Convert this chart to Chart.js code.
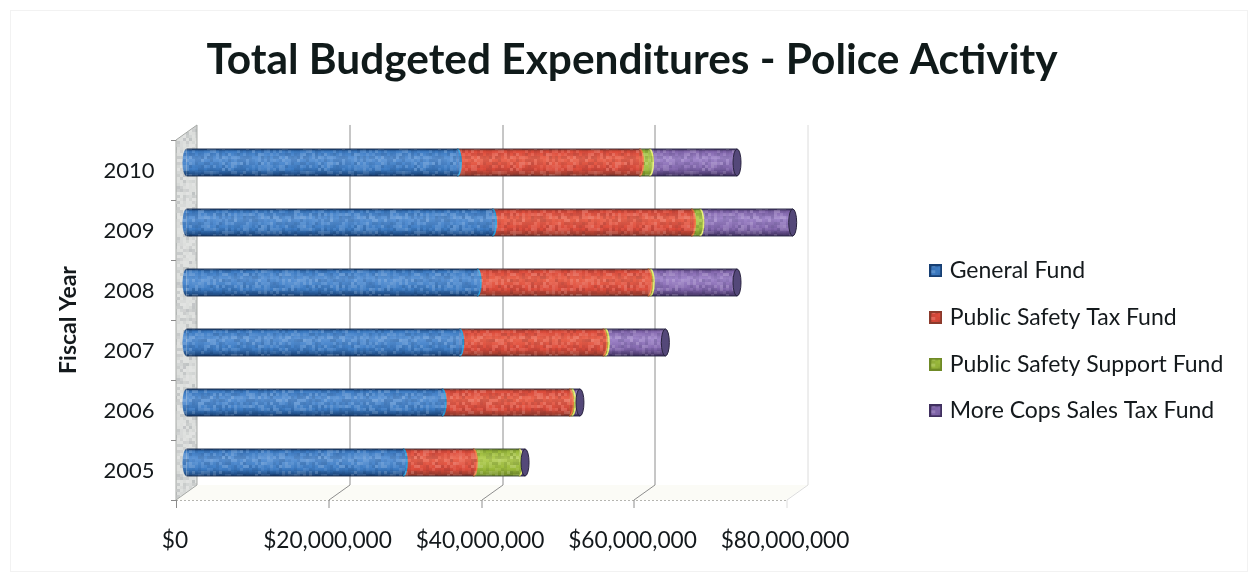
<!DOCTYPE html>
<html>
<head>
<meta charset="utf-8">
<title>Total Budgeted Expenditures - Police Activity</title>
<script src="https://cdn.jsdelivr.net/npm/chart.js@4"></script>
<style>
  body { margin: 0; background: #fff; }
  canvas { display: block; }
</style>
</head>
<body>
<canvas id="budget-chart" width="1252" height="579"></canvas>
<script>
var fiscal_years = ["2005", "2006", "2007", "2008", "2009", "2010"];

var general_fund = [28400000, 33500000, 35800000, 38100000, 40100000, 35500000];
var public_safety_tax = [9200000, 16700000, 18800000, 22400000, 26100000, 23900000];
var public_safety_support = [6000000, 300000, 300000, 300000, 1100000, 1300000];
var more_cops_tax = [800000, 1100000, 7900000, 11400000, 12200000, 11500000];

var fund_names = [
  "General Fund",
  "Public Safety Tax Fund",
  "Public Safety Support Fund",
  "More Cops Sales Tax Fund",
];
var fund_values = [general_fund, public_safety_tax, public_safety_support, more_cops_tax];

// edge, middle, highlight and rim colour for each cylinder
var fund_shades = [
  ["#173f73", "#3d7cc4", "#5b94d6", "#2aa0de"],
  ["#8b3a2c", "#dc4a3a", "#ea644e", "#f07a40"],
  ["#6f8a26", "#9ab93a", "#b4cf55", "#e8f070"],
  ["#40305f", "#8367ad", "#a086ca", "#a086ca"],
];

const BAR_H = 27;
const CAP_RX = 4;
// half the depth of the 3d box, the bars sit in the middle of it
const DEPTH_X = 10.5;
const DEPTH_Y = 7.5;
const TEXT_COLOR = "#14191c";

// speckle tile laid over the bars and the side wall
function make_grain() {
  var tile = document.createElement("canvas");
  tile.width = tile.height = 96;
  var tctx = tile.getContext("2d");
  for (var i = 0; i < 32; i++) {
    for (var j = 0; j < 32; j++) {
      var n = Math.abs(Math.sin(i * 12.9898 + j * 78.233) * 43758.5453) % 1;
      tctx.fillStyle = n > 0.5
        ? "rgba(255,255,255," + (n - 0.5) * 0.36 + ")"
        : "rgba(10,20,40," + (0.5 - n) * 0.26 + ")";
      tctx.fillRect(i * 3, j * 3, 3, 3);
    }
  }
  return tile;
}
var grain_tile = make_grain();

function make_swatch(shades) {
  var sw = document.createElement("canvas");
  sw.width = sw.height = 13;
  var sctx = sw.getContext("2d");
  sctx.fillStyle = shades[1];
  sctx.fillRect(0, 0, 13, 13);
  sctx.fillStyle = sctx.createPattern(grain_tile, "repeat");
  sctx.fillRect(0, 0, 13, 13);
  sctx.strokeStyle = shades[0];
  sctx.lineWidth = 2;
  sctx.strokeRect(1, 1, 11, 11);
  return sw;
}
var fund_swatches = fund_shades.map(make_swatch);

function bar_fill(shades) {
  return function (context) {
    var cy = context.chart.scales.y.getPixelForValue(context.dataIndex);
    // the legend asks for a style before the scales have a size
    if (!Number.isFinite(cy)) return shades[1];
    var grad = context.chart.ctx.createLinearGradient(0, cy - BAR_H / 2, 0, cy + BAR_H / 2);
    grad.addColorStop(0, shades[0]);
    grad.addColorStop(0.1, shades[1]);
    grad.addColorStop(0.35, shades[2]);
    grad.addColorStop(0.75, shades[1]);
    grad.addColorStop(1, shades[0]);
    return grad;
  };
}

function half_ellipse(ctx, x, y, side) {
  ctx.beginPath();
  ctx.ellipse(x, y, CAP_RX, BAR_H / 2, 0, -Math.PI / 2, Math.PI / 2, side < 0);
}

// moves legend and title off to where the layout engine won't put them
var place_boxes = {
  id: "place_boxes",
  afterLayout(chart) {
    var legend = chart.legend;
    legend.left = 909.5;
    legend.top = 235.5;
    legend.right = 1252;
    legend.bottom = 579;

    var title = chart.titleBlock;
    title.left = 0;
    title.right = 1264;

    chart.scales.y.top += DEPTH_Y;
    chart.scales.y.bottom += DEPTH_Y;
  },
};

// side wall, floor and back gridlines of the 3d box
var box_3d = {
  id: "box_3d",
  beforeDatasetsDraw(chart) {
    var ctx = chart.ctx;
    var area = chart.chartArea;
    var xs = chart.scales.x;
    var rows = fiscal_years.length;
    var back_top = area.top - DEPTH_Y;
    var back_bot = area.bottom - DEPTH_Y;
    var front_bot = area.bottom + DEPTH_Y;
    var x0 = xs.getPixelForValue(0);
    ctx.save();

    // faint frame around the whole chart
    ctx.strokeStyle = "#f2f2f2";
    ctx.lineWidth = 1;
    ctx.strokeRect(10.5, 10.5, 1237, 561);

    // floor
    var xn = xs.getPixelForValue(xs.max);
    ctx.fillStyle = "#fbfbf6";
    ctx.beginPath();
    ctx.moveTo(x0 + DEPTH_X, back_bot);
    ctx.lineTo(xn + DEPTH_X, back_bot);
    ctx.lineTo(xn - DEPTH_X, front_bot);
    ctx.lineTo(x0 - DEPTH_X, front_bot);
    ctx.closePath();
    ctx.fill();

    ctx.strokeStyle = "#b5b5b0";
    ctx.setLineDash([2, 2]);
    ctx.beginPath();
    ctx.moveTo(x0 - DEPTH_X, front_bot + 0.5);
    ctx.lineTo(xn - DEPTH_X, front_bot + 0.5);
    ctx.stroke();
    ctx.setLineDash([]);

    // gridlines go up the back and run forward across the floor
    xs.ticks.forEach(function (tick, i) {
      if (i === 0) return;
      var px = Math.round(xs.getPixelForValue(tick.value)) + 0.5;
      ctx.strokeStyle = i === xs.ticks.length - 1 ? "#dcdcdc" : "#8e8e8e";
      ctx.beginPath();
      ctx.moveTo(px + DEPTH_X, back_top);
      ctx.lineTo(px + DEPTH_X, back_bot);
      ctx.lineTo(px - DEPTH_X, front_bot);
      ctx.lineTo(px - DEPTH_X, front_bot + 8);
      ctx.stroke();
    });

    // left wall
    ctx.beginPath();
    ctx.moveTo(x0 - DEPTH_X, area.top + DEPTH_Y);
    ctx.lineTo(x0 + DEPTH_X, back_top);
    ctx.lineTo(x0 + DEPTH_X, back_bot);
    ctx.lineTo(x0 - DEPTH_X, front_bot);
    ctx.closePath();
    ctx.fillStyle = "#dcdedc";
    ctx.fill();
    ctx.save();
    ctx.clip();
    ctx.fillStyle = ctx.createPattern(grain_tile, "repeat");
    ctx.fillRect(x0 - DEPTH_X, back_top, DEPTH_X * 2, front_bot - back_top);
    ctx.restore();
    ctx.strokeStyle = "#a5a8a5";
    ctx.stroke();

    // row ticks on the wall front edge and the $0 tick
    ctx.strokeStyle = "#8a8a8a";
    ctx.beginPath();
    for (var r = 0; r <= rows; r++) {
      var ty = Math.round(area.top + DEPTH_Y + (r * area.height) / rows) + 0.5;
      ctx.moveTo(x0 - DEPTH_X - 5, ty);
      ctx.lineTo(x0 - DEPTH_X, ty);
    }
    ctx.moveTo(x0 - DEPTH_X + 0.5, front_bot);
    ctx.lineTo(x0 - DEPTH_X + 0.5, front_bot + 8);
    ctx.stroke();
    ctx.restore();
  },

  // round ends, rims between the funds and the dark end face
  afterDatasetsDraw(chart) {
    var ctx = chart.ctx;
    var last = fund_names.length - 1;
    ctx.save();
    fiscal_years.forEach(function (year, i) {
      var first_el = chart.getDatasetMeta(0).data[i];
      var last_el = chart.getDatasetMeta(last).data[i];
      var cy = first_el.y;

      half_ellipse(ctx, first_el.base, cy, -1);
      ctx.fillStyle = first_el.options.backgroundColor;
      ctx.fill();

      // back to front so each rim overlaps the next fund
      for (var d = last - 1; d >= 0; d--) {
        var el = chart.getDatasetMeta(d).data[i];
        half_ellipse(ctx, el.x, cy, 1);
        ctx.fillStyle = el.options.backgroundColor;
        ctx.fill();
        ctx.strokeStyle = fund_shades[d][3];
        ctx.lineWidth = 1.5;
        ctx.stroke();
      }

      // grain over the whole cylinder
      ctx.save();
      ctx.beginPath();
      ctx.ellipse(first_el.base, cy, CAP_RX, BAR_H / 2, 0, Math.PI / 2, -Math.PI / 2);
      ctx.ellipse(last_el.x, cy, CAP_RX, BAR_H / 2, 0, -Math.PI / 2, Math.PI / 2);
      ctx.closePath();
      ctx.clip();
      ctx.fillStyle = ctx.createPattern(grain_tile, "repeat");
      ctx.fillRect(first_el.base - CAP_RX, cy - BAR_H / 2, last_el.x - first_el.base + CAP_RX * 2, BAR_H);
      ctx.restore();

      // end face
      ctx.beginPath();
      ctx.ellipse(last_el.x, cy, CAP_RX, BAR_H / 2, 0, 0, Math.PI * 2);
      ctx.fillStyle = "#544879";
      ctx.fill();
      ctx.strokeStyle = "#2a2440";
      ctx.lineWidth = 1;
      ctx.stroke();

      // dark top and bottom outline
      ctx.strokeStyle = "rgba(20,28,48,0.55)";
      ctx.beginPath();
      ctx.moveTo(first_el.base, cy - BAR_H / 2);
      ctx.lineTo(last_el.x, cy - BAR_H / 2);
      ctx.moveTo(first_el.base, cy + BAR_H / 2);
      ctx.lineTo(last_el.x, cy + BAR_H / 2);
      ctx.stroke();
    });
    ctx.restore();
  },
};

var datasets = fund_names.map(function (name, d) {
  return {
    label: name,
    data: fund_values[d],
    backgroundColor: bar_fill(fund_shades[d]),
    borderWidth: 0,
    barThickness: BAR_H,
  };
});

new Chart(document.getElementById("budget-chart"), {
  type: "bar",
  data: { labels: fiscal_years, datasets: datasets },
  plugins: [place_boxes, box_3d],
  options: {
    indexAxis: "y",
    responsive: false,
    animation: false,
    layout: { padding: { right: 455.5 } },
    scales: {
      x: {
        stacked: true,
        min: 0,
        max: 80000000,
        grid: { display: false, drawTicks: false },
        border: { display: false },
        afterFit: (scale) => { scale.height = 86.5; },
        ticks: {
          stepSize: 20000000,
          maxRotation: 0,
          autoSkip: false,
          padding: 35,
          labelOffset: -DEPTH_X - 1,
          color: TEXT_COLOR,
          font: { family: "Lato", size: 22.7 },
          callback: (v) => "$" + Number(v).toLocaleString("en-US"),
        },
      },
      y: {
        stacked: true,
        reverse: true,
        grid: { display: false, drawTicks: false },
        border: { display: false },
        afterFit: (scale) => { scale.width = 186.5; },
        ticks: {
          padding: 32,
          labelOffset: DEPTH_Y + 1,
          color: TEXT_COLOR,
          font: { family: "Lato", size: 22 },
        },
        title: {
          display: true,
          text: "Fiscal Year",
          color: TEXT_COLOR,
          font: { family: "Lato", size: 23, weight: "bold" },
          padding: { top: 54.5, bottom: 0 },
        },
      },
    },
    plugins: {
      tooltip: { enabled: false },
      title: {
        display: true,
        text: "Total Budgeted Expenditures - Police Activity",
        color: "#101a1a",
        font: { family: "Lato", size: 42.4, weight: "bold" },
        padding: { top: 34.6, bottom: 47 },
      },
      legend: {
        position: "chartArea",
        align: "start",
        labels: {
          color: TEXT_COLOR,
          font: { family: "Lato", size: 23 },
          usePointStyle: true,
          pointStyleWidth: 5,
          boxHeight: 13,
          padding: 23.7,
          generateLabels: (chart) =>
            Chart.defaults.plugins.legend.labels.generateLabels(chart).map((item, i) => {
              item.pointStyle = fund_swatches[i];
              return item;
            }),
        },
      },
    },
  },
});
</script>
</body>
</html>
